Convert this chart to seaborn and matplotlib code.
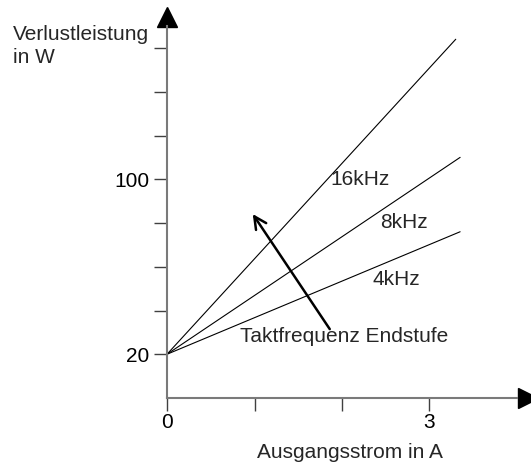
import matplotlib
matplotlib.use('Agg')
import matplotlib.pyplot as plt
import seaborn as sns
import pandas as pd

# Daten
frequencies = ['4kHz', '8kHz', '16kHz']
current_start = [0.0, 0.0, 0.0]
current_end = [3.35, 3.35, 3.30]
loss_start = [20, 20, 20]
loss_end = [76, 110, 164]

y_ticks = [20, 40, 60, 80, 100, 120, 140, 160]
y_ticklabels = ['20', '', '', '', '100', '', '', '']
x_ticks = [0, 1, 2, 3]
x_ticklabels = ['0', '', '', '3']

rows = []
for f, x0, x1, y0, y1 in zip(frequencies, current_start, current_end, loss_start, loss_end):
    rows.append({'freq': f, 'I': x0, 'P': y0})
    rows.append({'freq': f, 'I': x1, 'P': y1})
df = pd.DataFrame(rows)

sns.set_style('white')
plt.rcParams['font.family'] = ['Liberation Sans', 'DejaVu Sans']

W, H = 531, 466
fig = plt.figure(figsize=(W / 100, H / 100), dpi=100)
# origin at pixel (167, 398)
ax = fig.add_axes([167 / W, (H - 398) / H, (W - 167) / W, 398 / H])
ax.set_xlim(0, (W - 167) / 87.5)
ax.set_ylim(0, 398 / 2.1875)

sns.lineplot(data=df, x='I', y='P', hue='freq', palette=['black'] * 3,
             linewidth=0.8, legend=False, ax=ax)

axis_col = '#7a7a7a'
for s in ['top', 'right']:
    ax.spines[s].set_visible(False)
for s in ['left', 'bottom']:
    ax.spines[s].set_color(axis_col)
    ax.spines[s].set_linewidth(1.5)
ax.spines['left'].set_bounds(0, 170)
ax.spines['bottom'].set_bounds(0, 4.0)

# arrow heads of the axes
ax.plot([0], [174.4], marker='^', ms=15, color='black', clip_on=False)
ax.plot([4.12], [0], marker='>', ms=15, color='black', clip_on=False)

ax.set_yticks(y_ticks)
ax.set_yticklabels(y_ticklabels)
ax.set_xticks(x_ticks)
ax.set_xticklabels(x_ticklabels)
ax.tick_params(axis='both', direction='out', length=9.5, width=1.0,
               color='#404040', labelsize=15, labelcolor='black')
ax.tick_params(axis='y', pad=3, left=True)
ax.tick_params(axis='x', pad=1, bottom=True)
ax.set_xlabel('')
ax.set_ylabel('')

fig.text(13 / W, 1 - 40 / H, 'Verlustleistung', fontsize=15, ha='left', va='baseline')
fig.text(13 / W, 1 - 63 / H, 'in W', fontsize=15, ha='left', va='baseline')
fig.text(350 / W, 1 - 452 / H, 'Ausgangsstrom in A', fontsize=15, ha='center', va='center')

ax.text(1.863, 99.7, '16kHz', fontsize=15, ha='left', va='center')
ax.text(2.434, 80.1, '8kHz', fontsize=15, ha='left', va='center')
ax.text(2.343, 54.2, '4kHz', fontsize=15, ha='left', va='center')
ax.text(0.834, 27.9, 'Taktfrequenz Endstufe', fontsize=15, ha='left', va='center')

ax.annotate('', xy=(0.98, 84.1), xytext=(1.86, 31.5),
            arrowprops=dict(arrowstyle='->', color='black', lw=1.8,
                            mutation_scale=22, shrinkA=0, shrinkB=0))

fig.savefig('out.png', dpi=100)
